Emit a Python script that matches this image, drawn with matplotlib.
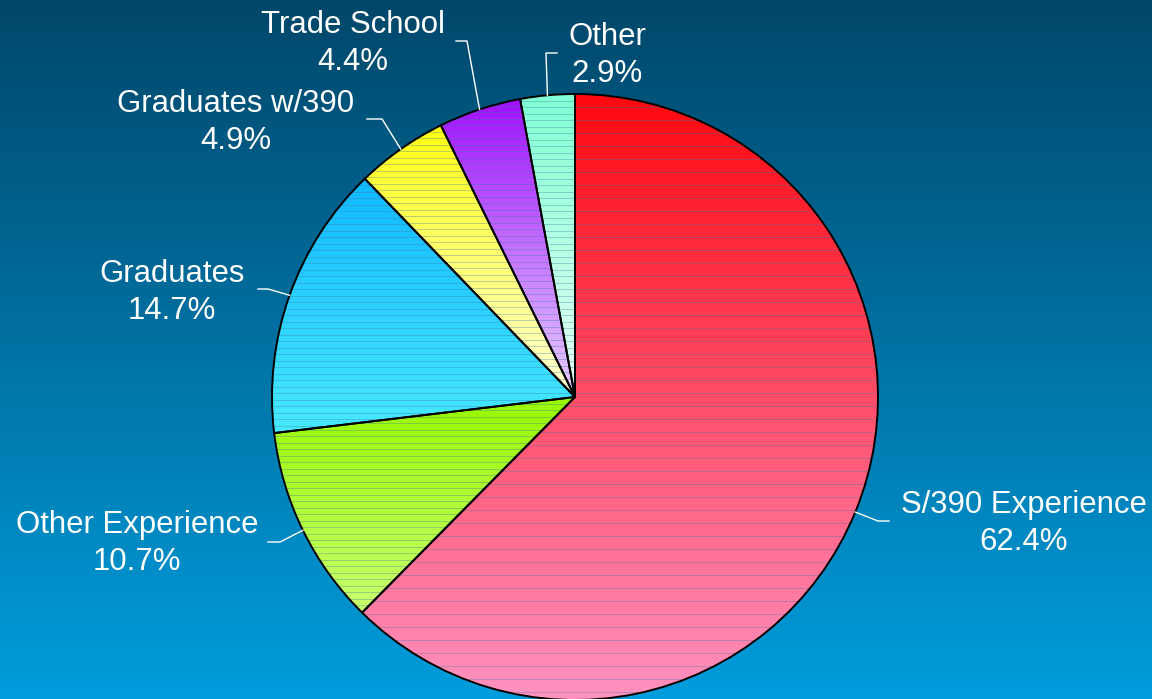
import numpy as np
import matplotlib
matplotlib.use('Agg')
import matplotlib.pyplot as plt
from matplotlib.colors import to_rgb

# 类别与占比
labels = ['S/390 Experience', 'Other Experience', 'Graduates', 'Graduates w/390', 'Trade School', 'Other']
shares = [62.4, 10.7, 14.7, 4.9, 4.4, 2.9]
pct_labels = ['62.4%', '10.7%', '14.7%', '4.9%', '4.4%', '2.9%']

# 每块的渐变色 (上 -> 下)
top_colors = ['#ff0810', '#98f800', '#10b8ff', '#ffff10', '#a010ff', '#80ffd4']
bottom_colors = ['#ff92c0', '#caff70', '#48eaff', '#ffffd8', '#e8d0ff', '#e8fff4']
band_step = [13, 6.5, 6.5, 6.5, 6.5, 6.5]

# 标签位置 (像素, 第一行基线) 和引线拐点
label_pos = [(1024, 513), (137, 533), (172, 282), (236, 112), (353, 33), (607, 45)]
elbows = [(878, 521), (280, 542), (268, 289), (382, 119), (467, 41), (546, 53)]
ends = [(889, 521), (268, 542), (258, 289), (367, 119), (456, 41), (557, 53)]

W, H = 1152, 699
fig = plt.figure(figsize=(W / 100, H / 100), dpi=100)
ax = fig.add_axes([0, 0, 1, 1])

# 背景渐变
t = np.linspace(0, 1, 256)[:, None]
bg = (1 - t) * np.array(to_rgb('#00476a')) + t * np.array(to_rgb('#009ddd'))
ax.imshow(bg[:, None, :], extent=[0, W, 0, H], origin='upper', aspect='auto', zorder=-10)

cx, cy, R = 575, H - 397, 303
wedges, _ = ax.pie(shares, startangle=90, counterclock=False, center=(cx, cy), radius=R, frame=True,
                   wedgeprops=dict(facecolor='none', edgecolor='black', linewidth=1.4))

for w, c0, c1, step in zip(wedges, top_colors, bottom_colors, band_step):
    ext = w.get_path().get_extents()
    grad = (1 - t) * np.array(to_rgb(c0)) + t * np.array(to_rgb(c1))
    im = ax.imshow(grad[:, None, :], extent=[ext.x0, ext.x1, ext.y0, ext.y1], origin='upper',
                   aspect='auto', zorder=0.5, interpolation='bilinear')
    im.set_clip_path(w)
    # 横向条纹
    ys = np.arange(ext.y1 - step, ext.y0, -step)
    lc = ax.hlines(ys, ext.x0, ext.x1, colors='#3a78a0', linewidth=0.6, alpha=0.4, zorder=0.6)
    lc.set_clip_path(w)

# 引线和文字
for w, name, pct, (lx, ly), (ex, ey), (fx, fy) in zip(wedges, labels, pct_labels, label_pos, elbows, ends):
    ang = np.deg2rad((w.theta1 + w.theta2) / 2)
    px, py = cx + R * np.cos(ang), cy + R * np.sin(ang)
    ax.plot([px, ex, fx], [py, H - ey, H - fy], color='white', linewidth=1.0, zorder=2)
    ax.text(lx, H - ly, name, ha='center', va='baseline', fontsize=22.4, color='white', family='Liberation Sans')
    ax.text(lx, H - ly - 37, pct, ha='center', va='baseline', fontsize=22.4, color='white', family='Liberation Sans')

ax.set_xlim(0, W)
ax.set_ylim(0, H)
ax.axis('off')

plt.savefig('out.png', dpi=100)
